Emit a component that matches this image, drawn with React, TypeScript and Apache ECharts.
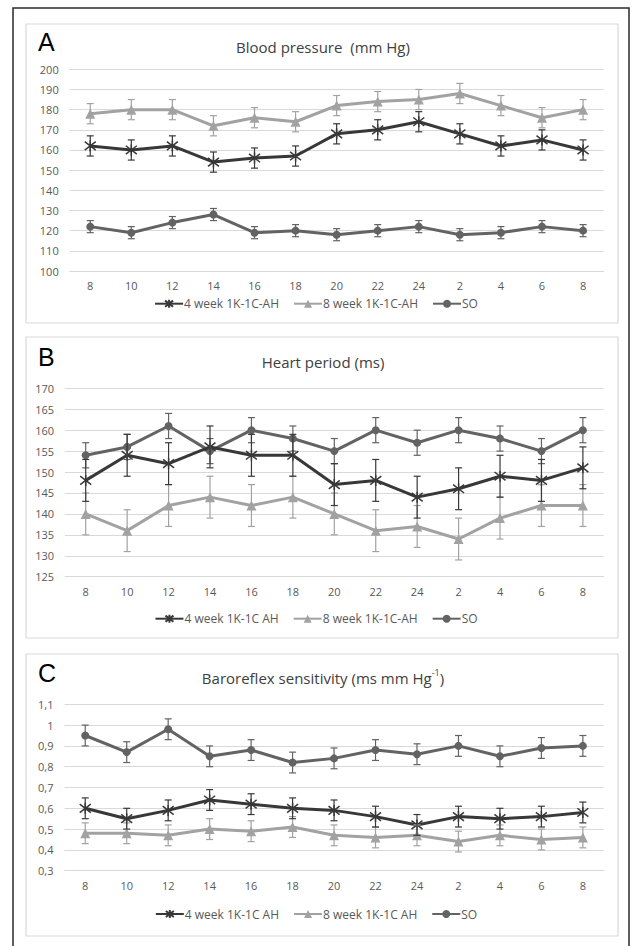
import React, { useEffect, useRef } from 'react';
import * as echarts from 'echarts';

// ---- data ----
const hours = ['8', '10', '12', '14', '16', '18', '20', '22', '24', '2', '4', '6', '8'];

// A: Blood pressure (mm Hg)
const bp4 = [162, 160, 162, 154, 156, 157, 168, 170, 174, 168, 162, 165, 160];
const bp8 = [178, 180, 180, 172, 176, 174, 182, 184, 185, 188, 182, 176, 180];
const bpSO = [122, 119, 124, 128, 119, 120, 118, 120, 122, 118, 119, 122, 120];
const bpErr4 = [5, 5, 5, 5, 5, 5, 5, 5, 5, 5, 5, 5, 5];
const bpErr8 = [5, 5, 5, 5, 5, 5, 5, 5, 5, 5, 5, 5, 5];
const bpErrSO = [3, 3, 3, 3, 3, 3, 3, 3, 3, 3, 3, 3, 3];

// B: Heart period (ms)
const hp4 = [148, 154, 152, 156, 154, 154, 147, 148, 144, 146, 149, 148, 151];
const hp8 = [140, 136, 142, 144, 142, 144, 140, 136, 137, 134, 139, 142, 142];
const hpSO = [154, 156, 161, 155, 160, 158, 155, 160, 157, 160, 158, 155, 160];
const hpErr4 = [5, 5, 5, 5, 5, 5, 5, 5, 5, 5, 5, 5, 5];
const hpErr8 = [5, 5, 5, 5, 5, 5, 5, 5, 5, 5, 5, 5, 5];
const hpErrSO = [3, 3, 3, 3, 3, 3, 3, 3, 3, 3, 3, 3, 3];

// C: Baroreflex sensitivity
const brs4 = [0.6, 0.55, 0.59, 0.64, 0.62, 0.6, 0.59, 0.56, 0.52, 0.56, 0.55, 0.56, 0.58];
const brs8 = [0.48, 0.48, 0.47, 0.5, 0.49, 0.51, 0.47, 0.46, 0.47, 0.44, 0.47, 0.45, 0.46];
const brsSO = [0.95, 0.87, 0.98, 0.85, 0.88, 0.82, 0.84, 0.88, 0.86, 0.9, 0.85, 0.89, 0.9];
const brsErr4 = [0.05, 0.05, 0.05, 0.05, 0.05, 0.05, 0.05, 0.05, 0.05, 0.05, 0.05, 0.05, 0.05];
const brsErr8 = [0.05, 0.05, 0.05, 0.05, 0.05, 0.05, 0.05, 0.05, 0.05, 0.05, 0.05, 0.05, 0.05];
const brsErrSO = [0.05, 0.05, 0.05, 0.05, 0.05, 0.05, 0.05, 0.05, 0.05, 0.05, 0.05, 0.05, 0.05];

const namesA = ['4 week 1K-1C-AH', '8 week 1K-1C-AH', 'SO'];
const namesB = ['4 week 1K-1C AH', '8 week 1K-1C-AH', 'SO'];
const namesC = ['4 week 1K-1C AH', '8 week 1K-1C AH', 'SO'];

const titles = ['Blood pressure  (mm Hg)', 'Heart period (ms)', 'Baroreflex sensitivity (ms mm Hg{sup|-1})'];
const letters = ['A', 'B', 'C'];

// ---- styles ----
const C4 = '#383838';
const C8 = '#a2a2a2';
const CSO = '#636363';
const FONT = '"Open Sans", "Noto Sans", sans-serif';
const LABEL = '#595959';
const GRIDC = '#d9d9d9';
const STAR = 'path://M0,0L10,10M10,0L0,10M5,-1.5L5,11.5';

const panels = [
  {
    grid: { left: 69.7, right: 28.4, top: 69.3, height: 201.7 },
    y: { min: 100, max: 200, interval: 10 },
    names: namesA, s4: bp4, s8: bp8, so: bpSO, e4: bpErr4, e8: bpErr8, eso: bpErrSO,
    legendY: 305.7, box: [26, 24, 592, 299], letterY: 42, titleY: 46.7,
  },
  {
    grid: { left: 65, right: 28.4, top: 388.3, height: 188.4 },
    y: { min: 125, max: 170, interval: 5 },
    names: namesB, s4: hp4, s8: hp8, so: hpSO, e4: hpErr4, e8: hpErr8, eso: hpErrSO,
    legendY: 620.7, box: [26, 337, 592, 301], letterY: 357, titleY: 361.7,
  },
  {
    grid: { left: 64.5, right: 28.4, top: 704.3, height: 166.4 },
    y: { min: 0.3, max: 1.1, interval: 0.1 },
    names: namesC, s4: brs4, s8: brs8, so: brsSO, e4: brsErr4, e8: brsErr8, eso: brsErrSO,
    legendY: 916, box: [26, 654, 592, 282], letterY: 673, titleY: 678,
  },
];

function errSeries(gi: number, vals: number[], errs: number[], color: string) {
  return {
    type: 'custom',
    xAxisIndex: gi,
    yAxisIndex: gi,
    silent: true,
    z: 5,
    data: vals.map((v, i) => [i, v - errs[i], v + errs[i]]),
    encode: { x: 0, y: [1, 2] },
    renderItem: (params: any, api: any) => {
      const i = api.value(0);
      const lo = api.coord([i, api.value(1)]);
      const hi = api.coord([i, api.value(2)]);
      const w = 3.5;
      const st = { stroke: color, lineWidth: 1.2 };
      return {
        type: 'group',
        children: [
          { type: 'line', shape: { x1: lo[0], y1: lo[1], x2: hi[0], y2: hi[1] }, style: st },
          { type: 'line', shape: { x1: lo[0] - w, y1: lo[1], x2: lo[0] + w, y2: lo[1] }, style: st },
          { type: 'line', shape: { x1: hi[0] - w, y1: hi[1], x2: hi[0] + w, y2: hi[1] }, style: st },
        ],
      };
    },
  };
}

function lineSeries(gi: number, name: string, vals: number[], color: string, symbol: string, size: number, bw: number) {
  return {
    type: 'line',
    name,
    xAxisIndex: gi,
    yAxisIndex: gi,
    data: vals,
    symbol,
    symbolSize: size,
    showAllSymbol: true,
    z: 4,
    lineStyle: { color, width: 3 },
    itemStyle: { color, borderColor: color, borderWidth: bw },
  };
}

function buildOption() {
  const grids: any[] = [];
  const xAxes: any[] = [];
  const yAxes: any[] = [];
  const legends: any[] = [];
  const series: any[] = [];
  const graphics: any[] = [];

  graphics.push({
    type: 'rect',
    shape: { x: 13, y: 8, width: 616, height: 960 },
    style: { fill: 'none', stroke: '#2a2a2a', lineWidth: 1.5 },
    z: -10,
  });

  panels.forEach((p, gi) => {
    grids.push({ ...p.grid, containLabel: false });
    xAxes.push({
      type: 'category',
      gridIndex: gi,
      data: hours,
      boundaryGap: true,
      axisTick: { show: false },
      axisLine: { show: true, lineStyle: { color: GRIDC, width: 1 } },
      axisLabel: { interval: 0, fontSize: 11, color: LABEL, fontFamily: FONT, margin: 9 },
      splitLine: { show: false },
    });
    yAxes.push({
      type: 'value',
      gridIndex: gi,
      min: p.y.min,
      max: p.y.max,
      interval: p.y.interval,
      axisLine: { show: false },
      axisTick: { show: false },
      splitLine: { show: true, lineStyle: { color: GRIDC, width: 1 } },
      axisLabel: {
        fontSize: 11,
        color: LABEL,
        fontFamily: FONT,
        margin: 11,
        formatter: (v: number) => String(Math.round(v * 10) / 10).replace('.', ','),
      },
    });
    legends.push({
      data: p.names,
      left: 'center',
      top: p.legendY - 8,
      padding: [0, 0, 0, 16],
      itemWidth: 28,
      itemHeight: 10,
      itemGap: 14,
      selectedMode: false,
      textStyle: { fontSize: 12, color: LABEL, fontFamily: FONT, padding: [0, 0, 0, -4] },
    });

    series.push(errSeries(gi, p.s8, p.e8, C8));
    series.push(errSeries(gi, p.so, p.eso, CSO));
    series.push(errSeries(gi, p.s4, p.e4, C4));
    series.push(lineSeries(gi, p.names[1], p.s8, C8, 'triangle', 10, 0));
    series.push(lineSeries(gi, p.names[2], p.so, CSO, 'circle', 8, 0));
    series.push(lineSeries(gi, p.names[0], p.s4, C4, STAR, 11, 1.5));

    const [bx, by, bw, bh] = p.box;
    graphics.push({
      type: 'rect',
      shape: { x: bx, y: by, width: bw, height: bh },
      style: { fill: 'none', stroke: GRIDC, lineWidth: 1.2 },
      z: -5,
    });
    graphics.push({
      type: 'text',
      x: 38,
      y: p.letterY,
      style: {
        text: letters[gi],
        fontSize: 25,
        fontFamily: '"Liberation Sans", Arial, sans-serif',
        fill: '#000',
        align: 'left',
        verticalAlign: 'middle',
      },
    });
    graphics.push({
      type: 'text',
      x: 323,
      y: p.titleY,
      style: {
        text: titles[gi],
        fontSize: 15,
        fontFamily: FONT,
        fill: '#404040',
        align: 'center',
        verticalAlign: 'middle',
        lineHeight: 20,
        rich: {
          sup: { fontSize: 9, fontFamily: FONT, fill: '#404040', verticalAlign: 'top', lineHeight: 14 },
        },
      },
    });
  });

  return {
    animation: false,
    backgroundColor: '#ffffff',
    grid: grids,
    xAxis: xAxes,
    yAxis: yAxes,
    legend: legends,
    series,
    graphic: graphics,
  };
}

export default function App() {
  const ref = useRef<HTMLDivElement>(null);
  useEffect(() => {
    const chart = echarts.init(ref.current!, null, { renderer: 'svg' });
    chart.setOption(buildOption() as any);
    return () => chart.dispose();
  }, []);
  return (
    <div
      ref={ref}
      style={{ position: 'absolute', left: 0, top: 0, width: 632, height: 946, background: '#fff' }}
    />
  );
}
